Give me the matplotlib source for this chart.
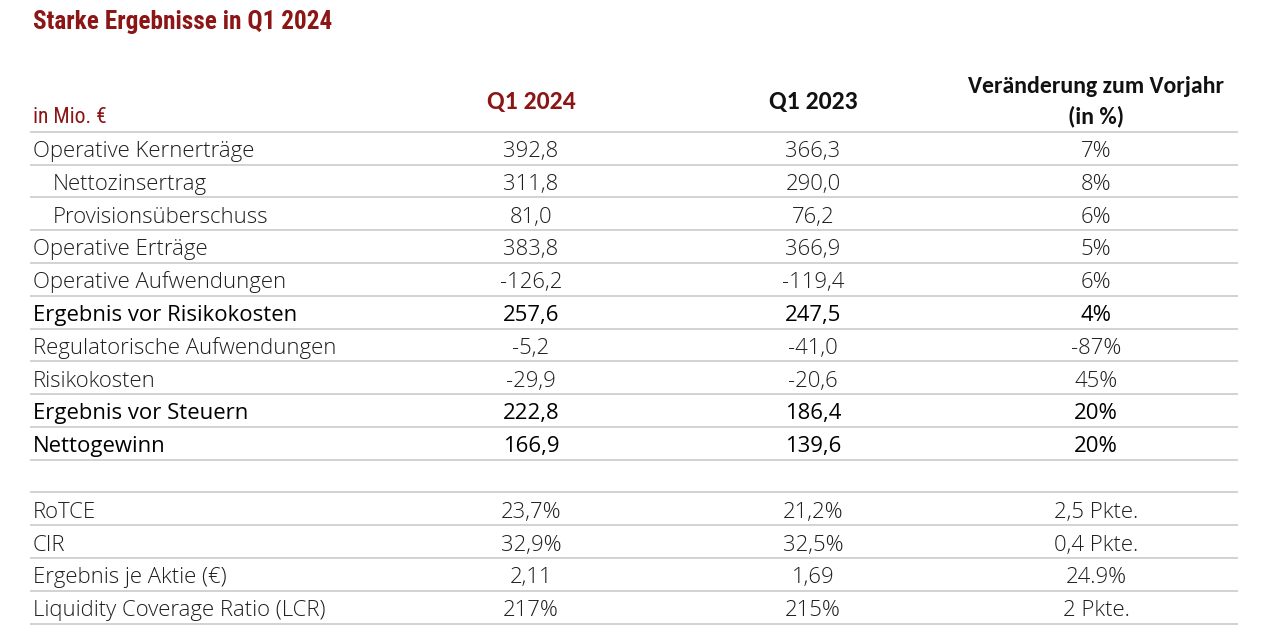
import matplotlib
matplotlib.use("Agg")
import matplotlib.pyplot as plt
from matplotlib import font_manager as fm

title = "Starke Ergebnisse in Q1 2024"
unit_label = "in Mio. €"
col_headers = ["Q1 2024", "Q1 2023", "Veränderung zum Vorjahr", "(in %)"]

labels = ["Operative Kernerträge", "Nettozinsertrag", "Provisionsüberschuss",
          "Operative Erträge", "Operative Aufwendungen", "Ergebnis vor Risikokosten",
          "Regulatorische Aufwendungen", "Risikokosten", "Ergebnis vor Steuern",
          "Nettogewinn", "",
          "RoTCE", "CIR", "Ergebnis je Aktie (€)", "Liquidity Coverage Ratio (LCR)"]
q1_2024 = ["392,8", "311,8", "81,0", "383,8", "-126,2", "257,6", "-5,2", "-29,9",
           "222,8", "166,9", "", "23,7%", "32,9%", "2,11", "217%"]
q1_2023 = ["366,3", "290,0", "76,2", "366,9", "-119,4", "247,5", "-41,0", "-20,6",
           "186,4", "139,6", "", "21,2%", "32,5%", "1,69", "215%"]
change = ["7%", "8%", "6%", "5%", "6%", "4%", "-87%", "45%", "20%", "20%", "",
          "2,5 Pkte.", "0,4 Pkte.", "24.9%", "2 Pkte."]
indented = [False, True, True] + [False] * 12
emphasis = [False, False, False, False, False, True, False, False, True, True,
            False, False, False, False, False]

available = {f.name for f in fm.fontManager.ttflist}


def pick(cands):
    for c in cands:
        if c in available:
            return c
    return "DejaVu Sans"


cond = pick(["Roboto Condensed", "PT Sans Narrow", "Archivo Narrow", "Asap Condensed",
             "Barlow Condensed", "Liberation Sans"])
headf = pick(["Carlito", "Roboto Condensed", "Liberation Sans"])
body = pick(["Open Sans", "Liberation Sans"])

RED = "#8c1515"
GRAY = "#1e1e1e"
BLACK = "#000000"
LINE = "#cfcfcf"

fig = plt.figure(figsize=(12.8, 6.39), dpi=100)
ax = fig.add_axes([0, 0, 1, 1])
ax.set_xlim(0, 1280)
ax.set_ylim(639, 0)
ax.axis("off")
renderer = fig.canvas.get_renderer()


def fit_size(s, family, weight, target_w, base=15):
    t = ax.text(0, 0, s, fontsize=base, fontfamily=family, fontweight=weight)
    w = t.get_window_extent(renderer).width
    t.remove()
    return base * target_w / w


x_left = 33
x_indent = 53
x_cols = [531, 813, 1096]
line_x0, line_x1 = 30, 1238
y_header_line = 131.7
row_h = 32.8

title_fs = fit_size(title, cond, "bold", 299)
head_fs = fit_size(col_headers[2], headf, "bold", 257)
q_fs = min(fit_size(col_headers[0], headf, "bold", 92), head_fs * 1.08)
unit_fs = fit_size(unit_label, cond, "normal", 74)
body_fs = fit_size("Regulatorische Aufwendungen", body, "light", 304)
cf = [cond, "DejaVu Sans"]
hf = [headf, "DejaVu Sans"]
bf = [body, "DejaVu Sans"]

ax.text(x_left, 29.5, title, color=RED, fontsize=title_fs, fontfamily=cf,
        fontweight="bold", va="baseline", ha="left")
ax.text(x_left, 123, unit_label, color=RED, fontsize=unit_fs, fontfamily=cf,
        va="baseline", ha="left")
ax.text(x_cols[0], 108.5, col_headers[0], color=RED, fontsize=q_fs, fontweight="bold",
        fontfamily=hf, va="baseline", ha="center")
ax.text(x_cols[1], 108.5, col_headers[1], color="#111111", fontsize=q_fs, fontweight="bold",
        fontfamily=hf, va="baseline", ha="center")
ax.text(x_cols[2], 93, col_headers[2], color="#111111", fontsize=head_fs, fontweight="bold",
        fontfamily=hf, va="baseline", ha="center")
ax.text(x_cols[2], 123, col_headers[3], color="#111111", fontsize=head_fs, fontweight="bold",
        fontfamily=hf, va="baseline", ha="center")

ax.hlines(y_header_line, line_x0, line_x1, color=LINE, lw=1.3)

for i, lab in enumerate(labels):
    ytop = y_header_line + row_h * i
    yline = y_header_line + row_h * (i + 1)
    ax.hlines(yline, line_x0, line_x1, color=LINE, lw=1.3)
    if not lab:
        continue
    color = BLACK if emphasis[i] else GRAY
    fw = "normal" if emphasis[i] else "light"
    x = x_indent if indented[i] else x_left
    yb = ytop + 25.3
    ax.text(x, yb, lab, color=color, fontsize=body_fs, fontfamily=bf, fontweight=fw,
            va="baseline", ha="left")
    for xc, val in zip(x_cols, [q1_2024[i], q1_2023[i], change[i]]):
        ax.text(xc, yb, val, color=color, fontsize=body_fs, fontfamily=bf, fontweight=fw,
                va="baseline", ha="center")

fig.savefig("out.png", dpi=100, facecolor="white")
